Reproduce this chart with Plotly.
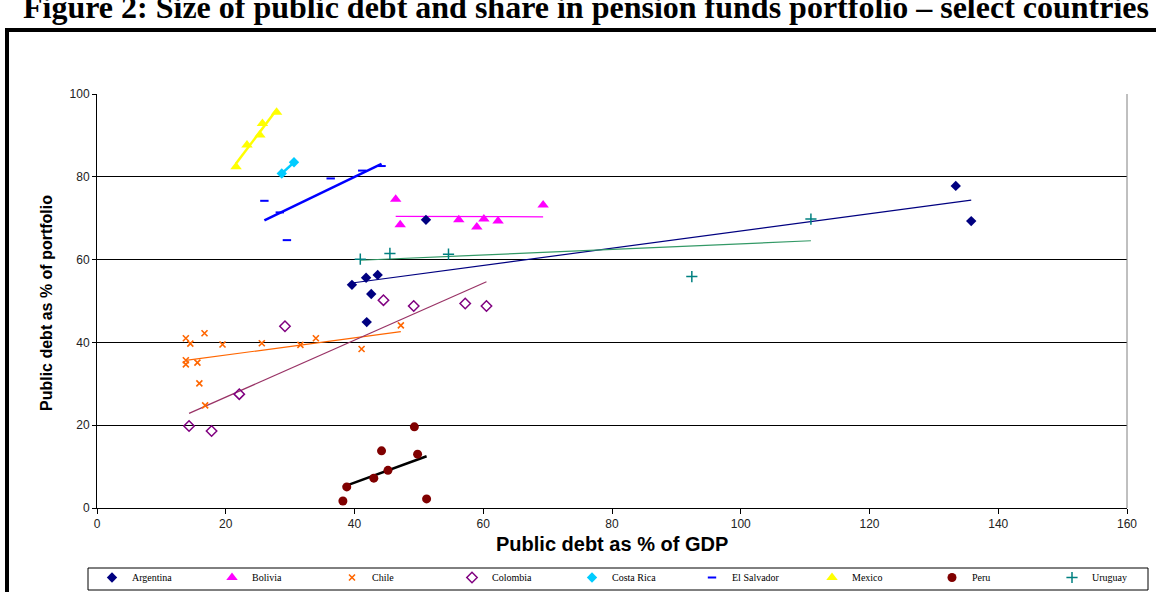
import numpy as np
import plotly.graph_objects as go

countries = ["Argentina", "Bolivia", "Chile", "Colombia", "Costa Rica",
             "El Salvador", "Mexico", "Peru", "Uruguay"]

arg_x = [39.6, 41.8, 43.6, 42.6, 41.9, 51.1, 133.4, 135.8]
arg_y = [53.9, 55.6, 56.3, 51.7, 44.9, 69.6, 77.8, 69.3]

bol_x = [46.4, 47.1, 56.2, 59.0, 60.1, 62.3, 69.3]
bol_y = [74.6, 68.4, 69.6, 67.9, 69.8, 69.3, 73.2]

chl_x = [13.8, 14.5, 16.7, 19.5, 25.6, 31.6, 34.0, 41.1, 47.2, 13.8, 13.8, 15.6, 15.9, 16.8]
chl_y = [41.0, 39.7, 42.2, 39.5, 39.8, 39.4, 41.0, 38.4, 44.1, 35.7, 34.7, 35.1, 30.1, 24.8]

col_x = [29.2, 22.1, 14.3, 17.8, 44.5, 49.2, 57.2, 60.5]
col_y = [43.9, 27.5, 19.8, 18.6, 50.2, 48.8, 49.4, 48.8]

cr_x = [28.7, 30.6]
cr_y = [80.8, 83.5]

els_x = [26.0, 29.5, 36.3, 41.2, 44.2, 28.4]
els_y = [74.2, 64.7, 79.6, 81.5, 82.6, 71.4]

mex_x = [21.6, 23.3, 25.3, 25.7, 27.9]
mex_y = [82.4, 87.7, 90.1, 92.9, 95.6]

per_x = [49.3, 44.2, 49.8, 45.2, 43.0, 38.8, 38.2, 51.2]
per_y = [19.6, 13.8, 13.0, 9.1, 7.2, 5.1, 1.7, 2.2]

uru_x = [40.9, 45.5, 54.6, 92.4, 110.9]
uru_y = [60.1, 61.5, 61.3, 55.9, 69.8]

series = [
    (arg_x, arg_y, dict(symbol="diamond", size=8, color="#000080"), "#000080", 1.2),
    (bol_x, bol_y, dict(symbol="triangle-up", size=10, color="#FF00FF"), "#FF00FF", 1.2),
    (chl_x, chl_y, dict(symbol="x-thin", size=6, color="#FF6600",
                        line=dict(color="#FF6600", width=1.6)), "#FF6600", 1.2),
    (col_x, col_y, dict(symbol="diamond-open", size=8, color="#800080",
                        line=dict(color="#800080", width=1.5)), "#993366", 1.2),
    (cr_x, cr_y, dict(symbol="diamond", size=8, color="#00CCFF"), "#00CCFF", 2.5),
    (els_x, els_y, dict(symbol="line-ew", size=6, color="#0000FF",
                        line=dict(color="#0000FF", width=2)), "#0000FF", 2.5),
    (mex_x, mex_y, dict(symbol="triangle-up", size=10, color="#FFFF00"), "#FFFF00", 2.5),
    (per_x, per_y, dict(symbol="circle", size=9, color="#800000"), "#000000", 2.5),
    (uru_x, uru_y, dict(symbol="cross-thin", size=8, color="#008080",
                        line=dict(color="#008080", width=1.5)), "#339966", 1.2),
]

fig = go.Figure()

# trend lines (least squares fits of each country's points)
for name, (xs, ys, mk, lc, lw) in zip(countries, series):
    xs_a = np.array(xs)
    ys_a = np.array(ys)
    slope, icpt = np.polyfit(xs_a, ys_a, 1)
    tx = np.array([xs_a.min(), xs_a.max()])
    fig.add_trace(go.Scatter(x=tx, y=slope * tx + icpt, mode="lines",
                             line=dict(color=lc, width=lw), showlegend=False,
                             hoverinfo="skip"))

for name, (xs, ys, mk, lc, lw) in zip(countries, series):
    fig.add_trace(go.Scatter(x=xs, y=ys, mode="markers", name=name, marker=mk))

L, R, T, B = 97, 29, 94, 84
W, H = 1156, 592
pw, ph = W - L - R, H - T - B


def px2x(p):
    return (p - L) / pw


def px2y(p):
    return (H - B - p) / ph


fig.update_layout(
    width=W, height=H, autosize=False,
    margin=dict(l=L, r=R, t=T, b=B, autoexpand=False),
    paper_bgcolor="white", plot_bgcolor="white",
    font=dict(family="Liberation Sans, Arial", color="#000000"),
    xaxis=dict(range=[0, 160], dtick=20, tick0=0, showgrid=False,
               showline=True, linecolor="black", linewidth=1,
               ticks="outside", ticklen=5, tickcolor="black",
               tickfont=dict(size=12, color="#222222"), zeroline=False),
    yaxis=dict(range=[0, 100], dtick=20, tick0=0, showgrid=True,
               gridcolor="black", gridwidth=1,
               showline=True, linecolor="black", linewidth=1,
               ticks="outside", ticklen=4, tickcolor="black",
               tickfont=dict(size=12, color="#222222"), zeroline=False),
    showlegend=True,
    legend=dict(orientation="h", x=px2x(92), y=px2y(563), xanchor="left", yanchor="top",
                entrywidth=75, entrywidthmode="pixels",
                font=dict(family="Liberation Serif, Times New Roman", size=10),
                borderwidth=0, bgcolor="rgba(0,0,0,0)",
                itemsizing="trace", tracegroupgap=0),
    shapes=[
        dict(type="line", xref="paper", yref="paper", x0=1, x1=1, y0=0, y1=1,
             line=dict(color="#808080", width=1)),
        dict(type="rect", xref="paper", yref="paper",
             x0=px2x(7), x1=px2x(1200), y0=px2y(30), y1=px2y(700),
             line=dict(color="black", width=4), layer="below"),
        dict(type="rect", xref="paper", yref="paper",
             x0=px2x(88), x1=px2x(1148), y0=px2y(590), y1=px2y(568),
             line=dict(color="black", width=1), fillcolor="white", layer="below"),
    ],
    annotations=[
        dict(text="<b>Public debt as % of portfolio</b>", textangle=-90,
             xref="paper", yref="paper", x=px2x(46), y=px2y(303),
             xanchor="center", yanchor="middle", showarrow=False,
             font=dict(size=16, family="Liberation Sans, Arial")),
        dict(text="<b>Public debt as % of GDP</b>",
             xref="paper", yref="paper", x=px2x(612), y=px2y(544),
             xanchor="center", yanchor="middle", showarrow=False,
             font=dict(size=20, family="Liberation Sans, Arial")),
        dict(text="<b>Figure 2: Size of public debt and share in pension funds portfolio – select countries</b>",
             xref="paper", yref="paper", x=px2x(586), y=px2y(27),
             xanchor="center", yanchor="bottom", showarrow=False,
             font=dict(size=32, family="Liberation Serif, Times New Roman")),
    ],
)

fig.write_html("out.html", config={"displayModeBar": False},
               post_script="document.body.style.margin='0';document.body.style.overflow='hidden';")
